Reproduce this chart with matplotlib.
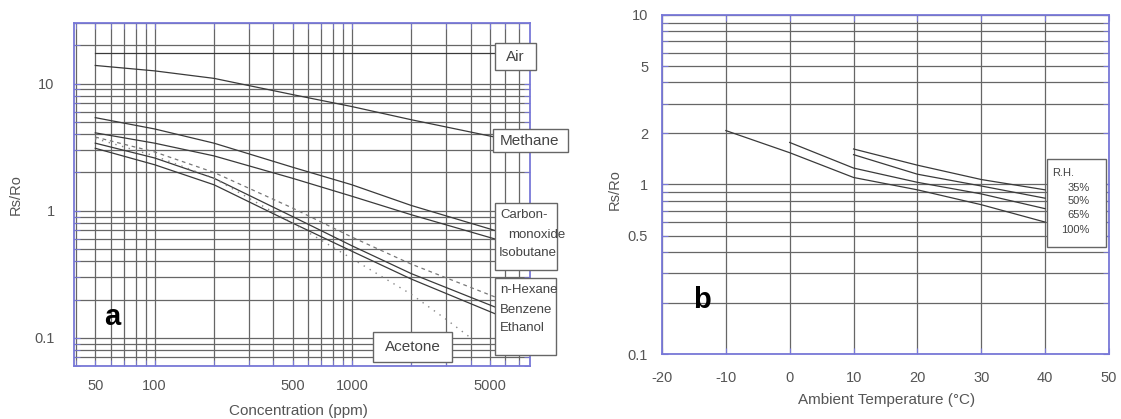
import matplotlib
matplotlib.use("Agg")
import matplotlib.pyplot as plt
from matplotlib.patches import Rectangle
from matplotlib.ticker import FixedLocator, NullFormatter, FixedFormatter

plt.rcParams['font.family'] = ['Liberation Sans', 'DejaVu Sans']
plt.rcParams['axes.unicode_minus'] = False

# ---- panel a: sensitivity to gases ----
conc_air = [50, 5300]
air = [17.5, 17.5]

conc = [50, 100, 200, 500, 1000, 2000, 5300]
methane = [13.9, 12.6, 11.0, 8.2, 6.6, 5.2, 3.8]
co = [5.4, 4.4, 3.4, 2.2, 1.6, 1.1, 0.7]
isobutane = [4.1, 3.4, 2.7, 1.8, 1.3, 0.93, 0.6]
hexane = [3.8, 2.9, 2.0, 1.05, 0.62, 0.38, 0.21]
benzene = [3.4, 2.6, 1.8, 0.9, 0.53, 0.32, 0.175]
ethanol = [3.1, 2.3, 1.6, 0.8, 0.48, 0.29, 0.155]

conc_acetone = [50, 100, 200, 500, 1000, 2000, 3000, 4000]
acetone = [3.7, 2.7, 1.8, 0.8, 0.42, 0.22, 0.14, 0.1]

conc_ticks = [50, 100, 500, 1000, 5000]
conc_grid = [40, 50, 60, 70, 80, 90, 100, 200, 300, 400, 500, 600, 700, 800, 900,
             1000, 2000, 3000, 4000, 5000, 6000, 7000]
ratio_grid_a = [0.06, 0.07, 0.08, 0.09, 0.1, 0.2, 0.3, 0.4, 0.5, 0.6, 0.7, 0.8, 0.9,
                1, 2, 3, 4, 5, 6, 7, 8, 9, 10, 20, 30]

# ---- panel b: temperature / humidity dependency ----
temp_100 = [-10, 0, 10, 20, 30, 40]
rh_100 = [2.08, 1.54, 1.1, 0.93, 0.76, 0.6]
temp_65 = [0, 10, 20, 30, 40]
rh_65 = [1.77, 1.25, 1.03, 0.88, 0.72]
temp_50 = [10, 20, 30, 40]
rh_50 = [1.5, 1.15, 0.98, 0.83]
temp_35 = [10, 20, 30, 40]
rh_35 = [1.62, 1.3, 1.07, 0.93]
rh_labels = ['35%', '50%', '65%', '100%']

temp_ticks = [-20, -10, 0, 10, 20, 30, 40, 50]
ratio_ticks_b = [0.1, 0.5, 1, 2, 5, 10]
ratio_grid_b = [0.2, 0.3, 0.4, 0.5, 0.6, 0.7, 0.8, 0.9, 1, 2, 3, 4, 5, 6, 7, 8, 9]

spine_c = '#7878d8'
grid_c = '#666666'
line_c = '#3a3a3a'
txt_c = '#555555'

fig = plt.figure(figsize=(11.21, 4.19), dpi=100)
axa = fig.add_axes([74/1121, 1-366/419, 456/1121, 343/419])
axb = fig.add_axes([662/1121, 1-354/419, 447/1121, 339/419])

def frame(ax):
    for s in ax.spines.values():
        s.set_color(spine_c)
        s.set_linewidth(1.3)
    ax.tick_params(which='both', direction='in', color=spine_c, length=4,
                   top=True, right=True, labelcolor=txt_c, labelsize=10.5)

def label_box(ax, x0, y0, x1, y1):
    # box corners in axes fractions
    ax.add_patch(Rectangle((x0, y0), x1 - x0, y1 - y0, transform=ax.transAxes,
                           fc='white', ec='#666666', lw=1.0, clip_on=False, zorder=5))

# panel a
axa.set_xscale('log')
axa.set_yscale('log')
axa.set_xlim(39, 8000)
axa.set_ylim(0.06, 30)
axa.xaxis.set_major_locator(FixedLocator(conc_ticks))
axa.xaxis.set_major_formatter(FixedFormatter([str(v) for v in conc_ticks]))
axa.xaxis.set_minor_locator(FixedLocator(conc_grid))
axa.xaxis.set_minor_formatter(NullFormatter())
axa.yaxis.set_major_locator(FixedLocator([0.1, 1, 10]))
axa.yaxis.set_major_formatter(FixedFormatter(['0.1', '1', '10']))
axa.yaxis.set_minor_locator(FixedLocator(ratio_grid_a))
axa.yaxis.set_minor_formatter(NullFormatter())
axa.grid(which='both', color=grid_c, lw=0.9)
frame(axa)
axa.tick_params(axis='x', pad=9)
axa.tick_params(axis='y', pad=14)

axa.plot(conc_air, air, color=line_c, lw=0.9)
axa.plot(conc, methane, color=line_c, lw=0.9)
axa.plot(conc, co, color=line_c, lw=0.9)
axa.plot(conc, isobutane, color=line_c, lw=0.9)
axa.plot(conc, hexane, color='#777777', lw=0.9, ls=(0, (3, 3)))
axa.plot(conc, benzene, color=line_c, lw=0.9)
axa.plot(conc, ethanol, color=line_c, lw=0.9)
axa.plot(conc_acetone, acetone, color='#888888', lw=1.0, ls=(0, (1, 4)))

tk = dict(transform=axa.transAxes, color='#444444', clip_on=False, zorder=6, va='center')
label_box(axa, 0.923, 0.863, 1.013, 0.942)
axa.text(0.968, 0.902, 'Air', ha='center', fontsize=11, **tk)
label_box(axa, 0.919, 0.624, 1.083, 0.691)
axa.text(0.933, 0.657, 'Methane', ha='left', fontsize=11, **tk)
label_box(axa, 0.923, 0.280, 1.059, 0.475)
axa.text(0.934, 0.440, 'Carbon-', ha='left', fontsize=9.5, **tk)
axa.text(0.953, 0.382, 'monoxide', ha='left', fontsize=9.5, **tk)
axa.text(0.932, 0.329, 'Isobutane', ha='left', fontsize=9.5, **tk)
label_box(axa, 0.923, 0.032, 1.057, 0.257)
axa.text(0.934, 0.222, 'n-Hexane', ha='left', fontsize=9.5, **tk)
axa.text(0.934, 0.163, 'Benzene', ha='left', fontsize=9.5, **tk)
axa.text(0.934, 0.111, 'Ethanol', ha='left', fontsize=9.5, **tk)
label_box(axa, 0.656, 0.012, 0.829, 0.099)
axa.text(0.743, 0.055, 'Acetone', ha='center', fontsize=11, **tk)

axa.text(0.083, 0.143, 'a', transform=axa.transAxes, fontsize=21,
         fontweight='bold', ha='center', va='center')

fig.text(298/1121, 1-411/419, 'Concentration (ppm)', ha='center', va='center',
         fontsize=11, color=txt_c)
fig.text(16/1121, 1-195/419, 'Rs/Ro', ha='center', va='center', rotation=90,
         fontsize=10.5, color=txt_c)

# panel b
axb.set_yscale('log')
axb.set_xlim(-20, 50)
axb.set_ylim(0.1, 10)
axb.xaxis.set_major_locator(FixedLocator(temp_ticks))
axb.yaxis.set_major_locator(FixedLocator(ratio_ticks_b))
axb.yaxis.set_major_formatter(FixedFormatter(['0.1', '0.5', '1', '2', '5', '10']))
axb.yaxis.set_minor_locator(FixedLocator(ratio_grid_b))
axb.yaxis.set_minor_formatter(NullFormatter())
axb.grid(which='both', color=grid_c, lw=0.9)
frame(axb)
axb.tick_params(axis='x', pad=12)
axb.tick_params(axis='y', pad=10)

axb.plot(temp_100, rh_100, color=line_c, lw=0.9)
axb.plot(temp_65, rh_65, color=line_c, lw=0.9)
axb.plot(temp_50, rh_50, color=line_c, lw=0.9)
axb.plot(temp_35, rh_35, color=line_c, lw=0.9)

label_box(axb, 0.861, 0.316, 0.993, 0.575)
axb.text(0.872, 0.533, 'R.H.', transform=axb.transAxes, ha='left', va='center',
         fontsize=8, color='#444444', zorder=6)
rh_y = [0.491, 0.452, 0.410, 0.366]
for lab, yy in zip(rh_labels, rh_y):
    axb.text(0.957, yy, lab, transform=axb.transAxes, ha='right', va='center',
             fontsize=8, color='#444444', zorder=6)
axb.text(0.09, 0.16, 'b', transform=axb.transAxes, fontsize=21,
         fontweight='bold', ha='center', va='center')

fig.text(887/1121, 1-400/419, 'Ambient Temperature (\u00b0C)', ha='center', va='center',
         fontsize=11, color=txt_c)
fig.text(615/1121, 1-190/419, 'Rs/Ro', ha='center', va='center', rotation=90,
         fontsize=10.5, color=txt_c)

fig.savefig('out.png', dpi=100)
